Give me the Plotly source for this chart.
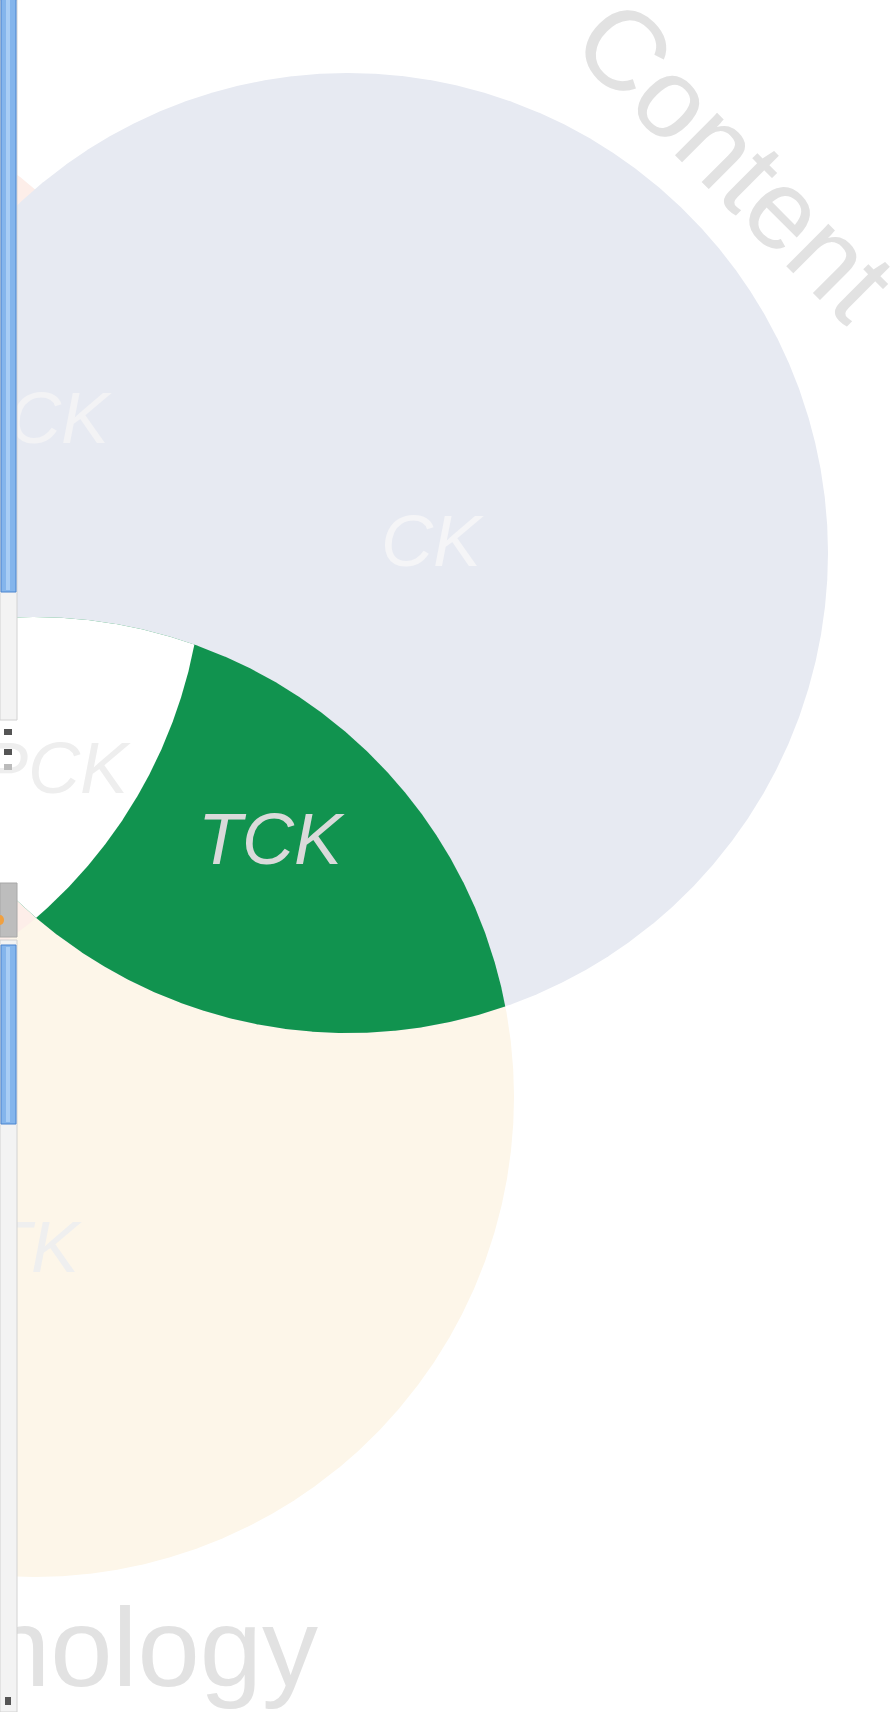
import numpy as np
import plotly.graph_objects as go

# ---- data (Venn circles of the TPACK diagram, in page pixels) ----
circle_names = ["Technology", "Pedagogy", "Content"]
circle_cx = [34, -277, 348]
circle_cy = [1097, 554, 553]
circle_r = [480, 480, 480]
circle_colors = ["#fdf6e9", "#fdeee9", "#e7eaf2"]

region_labels = ["CK", "TCK", "PCK", "TPCK", "TK"]
label_x = [431, 270, 109, 128, 79]
label_y = [548, 846, 425, 775, 1254]

title_labels = ["Content", "Technology"]

W, H = 894, 1712


def circle_pts(i, n=2880):
    t = np.linspace(0, 2 * np.pi, n, endpoint=False)
    return circle_cx[i] + circle_r[i] * np.cos(t), circle_cy[i] + circle_r[i] * np.sin(t)


def inside(x, y, i):
    return (x - circle_cx[i]) ** 2 + (y - circle_cy[i]) ** 2 <= circle_r[i] ** 2 + 1e-6


def intersection(idx):
    xs, ys = [], []
    for i in idx:
        x, y = circle_pts(i)
        m = np.ones_like(x, dtype=bool)
        for j in idx:
            if j != i:
                m &= inside(x, y, j)
        xs.append(x[m]); ys.append(y[m])
    x = np.concatenate(xs); y = np.concatenate(ys)
    a = np.arctan2(y - y.mean(), x - x.mean())
    o = np.argsort(a)
    x, y = x[o], y[o]
    return np.append(x, x[0]), np.append(y, y[0])


fig = go.Figure()
for i, name in enumerate(circle_names):
    x, y = circle_pts(i)
    fig.add_trace(go.Scatter(x=np.append(x, x[0]), y=np.append(y, y[0]), fill="toself",
                             fillcolor=circle_colors[i], line=dict(width=0), mode="lines",
                             name=name, hoverinfo="skip", showlegend=False))

gx, gy = intersection([0, 2])
fig.add_trace(go.Scatter(x=gx, y=gy, fill="toself", fillcolor="#11934f", line=dict(width=0),
                         mode="lines", hoverinfo="skip", showlegend=False))
wx, wy = intersection([0, 1, 2])
fig.add_trace(go.Scatter(x=wx, y=wy, fill="toself", fillcolor="#ffffff", line=dict(width=0),
                         mode="lines", hoverinfo="skip", showlegend=False))

font_family = "Liberation Sans, Arial, Helvetica, sans-serif"
label_colors = ["#f5f5f7", "#dadada", "#f3f3f5", "#eeeeee", "#efefef"]
positions = ["middle center", "middle center", "middle left", "middle left", "middle left"]
for k, lab in enumerate(region_labels):
    fig.add_trace(go.Scatter(x=[label_x[k]], y=[label_y[k]], text=[lab], mode="text",
                             textposition=positions[k], hoverinfo="skip", showlegend=False,
                             textfont=dict(family=font_family, size=72, color=label_colors[k],
                                           style="italic")))

fig.add_trace(go.Scatter(x=[318], y=[1658], text=[title_labels[1]], mode="text",
                         textposition="middle left", hoverinfo="skip", showlegend=False,
                         textfont=dict(family=font_family, size=112, color="#e2e2e2")))

fig.add_annotation(x=735, y=160, text=title_labels[0], showarrow=False, textangle=45,
                   xanchor="center", yanchor="middle",
                   font=dict(family=font_family, size=113, color="#e2e2e2"))

# ---- window chrome (scrollbars on the left edge of the screenshot) ----
shapes = [
    dict(type="rect", x0=0, x1=17, y0=0, y1=720, fillcolor="#f3f3f3", line=dict(color="#d2d2d2", width=1)),
    dict(type="rect", x0=1, x1=16, y0=-5, y1=592, fillcolor="#84b5ec", line=dict(color="#4a84cf", width=1)),
    dict(type="rect", x0=6, x1=10, y0=0, y1=590, fillcolor="#a8cdf5", line=dict(width=0)),
    dict(type="rect", x0=4, x1=12, y0=729, y1=735, fillcolor="#555555", line=dict(width=0)),
    dict(type="rect", x0=4, x1=12, y0=749, y1=755, fillcolor="#555555", line=dict(width=0)),
    dict(type="rect", x0=4, x1=12, y0=764, y1=770, fillcolor="#bbbbbb", line=dict(width=0)),
    dict(type="rect", x0=0, x1=17, y0=883, y1=937, fillcolor="#bdbdbd", line=dict(color="#a8a8a8", width=1)),
    dict(type="circle", x0=-4, x1=4, y0=915, y1=925, fillcolor="#f0a040", line=dict(width=0)),
    dict(type="rect", x0=0, x1=17, y0=940, y1=1712, fillcolor="#f3f3f3", line=dict(color="#d2d2d2", width=1)),
    dict(type="rect", x0=1, x1=16, y0=945, y1=1124, fillcolor="#84b5ec", line=dict(color="#4a84cf", width=1)),
    dict(type="rect", x0=6, x1=10, y0=947, y1=1122, fillcolor="#a8cdf5", line=dict(width=0)),
    dict(type="rect", x0=5, x1=11, y0=1697, y1=1705, fillcolor="#555555", line=dict(width=0)),
]
fig.update_layout(shapes=shapes)

fig.update_layout(
    width=W, height=H, margin=dict(l=0, r=0, t=0, b=0),
    paper_bgcolor="white", plot_bgcolor="white", showlegend=False,
    xaxis=dict(range=[0, W], visible=False, fixedrange=True),
    yaxis=dict(range=[H, 0], visible=False, fixedrange=True),
)
fig.write_html("out.html", config={"displayModeBar": False},
               post_script="document.body.style.margin='0';document.body.style.overflow='hidden';")
